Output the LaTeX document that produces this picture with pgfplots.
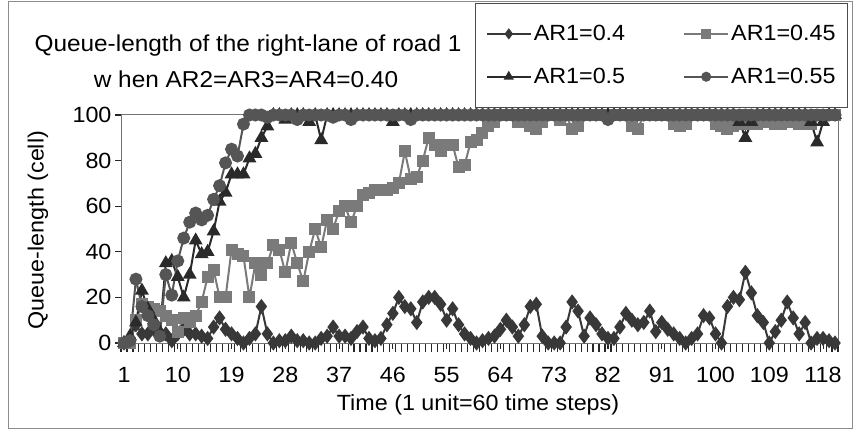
\documentclass[border=0pt]{standalone}
\usepackage{fontspec}
\setmainfont{Liberation Sans}[FakeStretch=1.06]
\usepackage{pgfplots}
\usepackage{pgfplotstable}
\pgfplotsset{compat=1.18}
\definecolor{cd}{HTML}{383838}
\definecolor{cs}{HTML}{7A7A7A}
\definecolor{ct}{HTML}{2A2A2A}
\definecolor{cc}{HTML}{555555}
\pgfplotstableread{
x d s t c
1 0 0 0 0
2 1 0 3 1
3 8 10 9 28
4 4 17 23 16
5 4 16 15 12
6 6 15 10 8
7 4 14 5 3
8 4 12 35 30
9 1 10 36 21
10 4 5 29 36
11 6 11 20 46
12 4 9 30 53
13 4 12 45 57
14 3 18 39 54
15 2 29 40 56
16 7 32 49 63
17 11 20 62 69
18 6 20 66 79
19 4 41 74 85
20 2 39 74 82
21 0 38 74 96
22 2 20 81 100
23 4 35 83 100
24 16 30 90 100
25 4 35 95 99
26 0 43 100 100
27 1 41 100 100
28 1 31 98 100
29 3 44 100 100
30 1 35 100 98
31 1 27 100 100
32 0 40 97 100
33 0 50 100 100
34 2 42 89 100
35 3 54 100 100
36 7 50 100 99
37 3 58 100 100
38 3 60 100 100
39 2 53 100 98
40 5 60 100 100
41 7 65 100 100
42 2 66 100 100
43 1 67 100 100
44 2 67 100 100
45 8 67 100 100
46 13 68 97 100
47 20 70 100 100
48 16 84 100 100
49 15 72 100 98
50 9 73 100 100
51 18 80 100 100
52 20 90 100 100
53 20 87 100 100
54 17 84 100 100
55 10 87 100 100
56 15 87 100 100
57 8 77 100 100
58 4 78 100 100
59 2 88 100 100
60 0 89 100 100
61 1 92 100 100
62 2 95 100 100
63 3 97 100 100
64 6 100 100 100
65 10 100 100 100
66 7 100 100 100
67 3 97 100 100
68 8 100 100 100
69 16 95 100 100
70 17 94 100 100
71 3 97 100 100
72 0 100 100 100
73 0 100 100 100
74 0 98 100 100
75 7 100 100 100
76 18 94 100 100
77 14 95 100 100
78 3 100 100 100
79 11 100 100 100
80 8 100 100 100
81 4 100 100 100
82 2 100 100 98
83 2 100 100 100
84 7 100 100 100
85 13 100 100 100
86 10 95 100 100
87 8 94 100 100
88 9 100 100 100
89 14 100 100 100
90 5 100 100 100
91 9 100 100 100
92 6 100 100 100
93 4 96 100 100
94 2 95 100 100
95 0 96 100 100
96 2 100 100 100
97 4 100 100 100
98 12 100 100 100
99 11 100 100 100
100 4 96 100 100
101 0 95 100 100
102 16 94 100 100
103 20 95 100 100
104 19 96 97 100
105 31 100 90 100
106 22 96 97 100
107 12 96 100 100
108 9 100 100 100
109 0 97 100 100
110 5 96 100 100
111 10 96 100 100
112 18 100 100 100
113 11 97 100 100
114 4 96 100 100
115 9 96 100 100
116 0 96 97 100
117 2 100 88 100
118 2 100 97 100
119 1 100 100 100
120 0 100 100 100
}\datatable

\begin{document}
\begin{tikzpicture}[font=\fontsize{22}{26}\selectfont]
\path[use as bounding box] (0pt,0pt) rectangle (854pt,429pt);
\draw[black!45, line width=1pt] (8pt,1pt) rectangle (852pt,427pt);
\node at (248pt,383pt) {\fontsize{23}{27}\selectfont Queue-length of the right-lane of road 1};
\node at (246pt,350pt) {\fontsize{23}{27}\selectfont w hen AR2=AR3=AR4=0.40};
\node[rotate=90] at (38pt,199pt) {Queue-length (cell)};
\node at (478pt,24pt) {Time (1 unit=60 time steps)};
\begin{axis}[
  at={(121pt,86pt)}, anchor=south west,
  scale only axis, width=717pt, height=228pt,
  xmin=0.5, xmax=120.5, ymin=0, ymax=100,
  xtick={1,10,...,118},
  minor xtick={0.5,1.5,...,120.5},
  xticklabel={\rule{0pt}{30pt}\pgfmathprintnumber{\tick}},
  ytick={0,20,...,100},
  xtick pos=bottom, ytick pos=left,
  axis on top,
  axis line style={black!55, line width=1pt},
  tick align=outside,
  major tick length=6pt, minor tick length=9pt,
  tick style={black!85, line width=1.1pt},
  minor tick style={black!85, line width=1.1pt},
  /pgf/number format/assume math mode=true,
  tick label style={font=\fontsize{22}{26}\selectfont},
  legend columns=2,
  legend cell align=left,
  legend style={at={(1.0139,1.491)}, anchor=north east,
     draw=black!70, line width=0.8pt,
     font=\fontsize{22}{26}\selectfont,
     inner xsep=10pt, inner ysep=20pt,
     /tikz/every even column/.append style={column sep=56pt},
     row sep=22pt},
  legend image code/.code={\draw[mark repeat=2,mark phase=2,mark size=4pt] plot coordinates {(0pt,0pt) (22pt,0pt) (44pt,0pt)};},
  every axis plot/.append style={line width=2pt},
]
\addplot[color=cd, mark=diamond*, mark size=6pt, mark options={fill=cd}] table[x=x,y=d] {\datatable};
\addlegendentry{AR1=0.4}
\addplot[color=cs, mark=square*, mark size=5pt, mark options={fill=cs}] table[x=x,y=s] {\datatable};
\addlegendentry{AR1=0.45}
\addplot[color=ct, mark=triangle*, mark size=6pt, mark options={fill=ct}] table[x=x,y=t] {\datatable};
\addlegendentry{AR1=0.5}
\addplot[color=cc, mark=*, mark size=5.5pt, mark options={fill=cc}] table[x=x,y=c] {\datatable};
\addlegendentry{AR1=0.55}
\end{axis}
\end{tikzpicture}
\end{document}
